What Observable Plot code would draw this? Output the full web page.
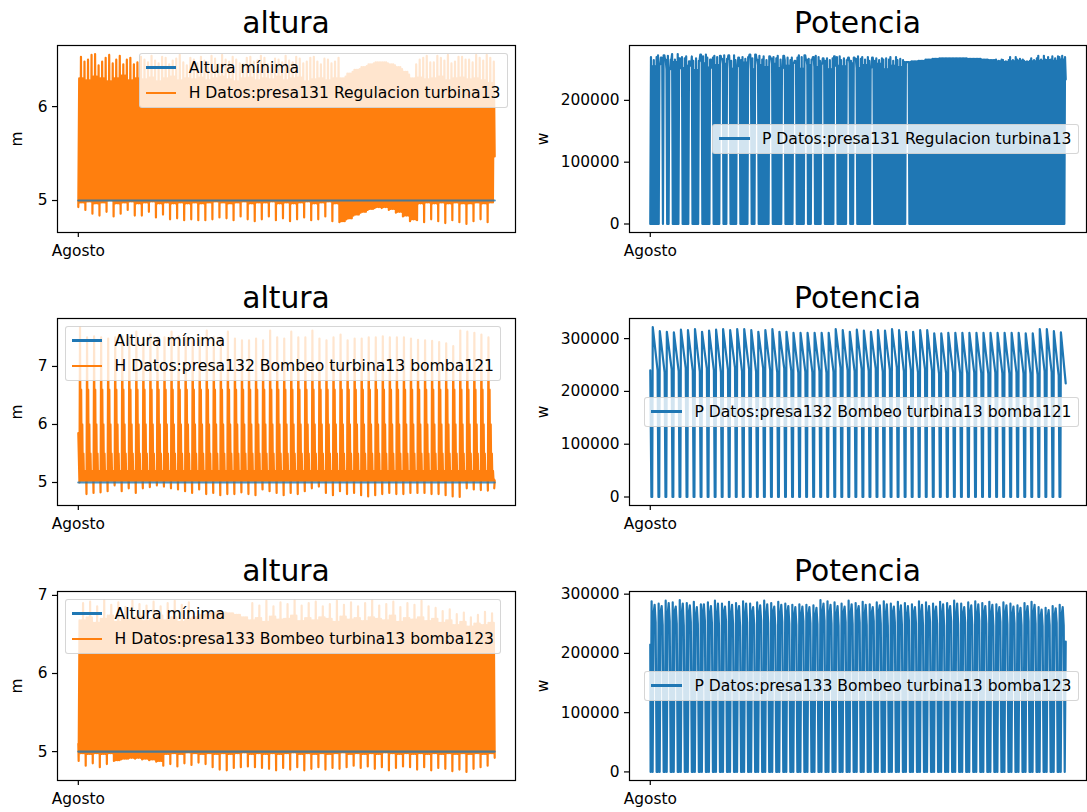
<!DOCTYPE html>
<html><head><meta charset="utf-8">
<script src="https://cdn.jsdelivr.net/npm/d3@7"></script>
<script src="https://cdn.jsdelivr.net/npm/@observablehq/plot@0.6"></script>
<style>
html,body{margin:0;padding:0;background:#fff;overflow:hidden}
#fig{position:relative;width:1087px;height:812px;font-family:"DejaVu Sans",sans-serif;color:#000}
.pw{position:absolute}
.title{position:absolute;font-size:29.8px;line-height:30px;white-space:nowrap;transform:translateX(-50%)}
.ylab{position:absolute;font-size:15.4px;line-height:16px;white-space:nowrap;transform:translate(-50%,-50%) rotate(-90deg)}
.legend{position:absolute;background:rgba(255,255,255,0.8);border:1px solid rgba(204,204,204,0.8);border-radius:3px;padding:5px 6px;font-size:15.6px;line-height:18px;white-space:nowrap;color:#000}
.legend .row{display:flex;align-items:center}
.legend .row+.row{margin-top:7.7px}
.legend .h{width:30.8px;height:2.2px;margin-right:12.3px;flex:none}
</style></head><body><div id="fig"></div>
<script>
// ---------- texts ----------
const xTickLabel = "Agosto";
const panelTitles = ["altura", "Potencia"];
const unitLabels = ["m", "w"];
const legendMin = "Altura mínima";
const names = {
  h131: "H Datos:presa131 Regulacion turbina13",
  p131: "P Datos:presa131 Regulacion turbina13",
  h132: "H Datos:presa132 Bombeo turbina13 bomba121",
  p132: "P Datos:presa132 Bombeo turbina13 bomba121",
  h133: "H Datos:presa133 Bombeo turbina13 bomba123",
  p133: "P Datos:presa133 Bombeo turbina13 bomba123"
};
const yTicksH131 = [5, 6];
const yTicksH132 = [5, 6, 7];
const yTicksH133 = [5, 6, 7];
const yTicksP131 = [0, 100000, 200000];
const yTicksP132 = [0, 100000, 200000, 300000];
const yTicksP133 = [0, 100000, 200000, 300000];
const alturaMinima = 5; // m

// ---------- data (per tidal cycle) ----------
const P = 12.42; // hours per tidal cycle

// presa131 height (m): trough spike, body bottom, body top, two top spikes
const h131Tr = [4.93,4.90,4.86,4.84,4.88,4.83,4.86,4.90,4.84,4.84,
  4.88,4.82,4.85,4.80,4.81,4.79,4.80,4.79,4.79,4.80,
  4.82,4.81,4.79,4.83,4.80,4.78,4.80,4.83,4.79,4.81,
  4.78,4.80,4.82,4.79,4.80,4.83,4.78,4.77,4.80,4.84,
  4.87,4.90,4.92,4.92,4.90,4.87,4.83,4.78,4.79,4.77,
  4.80,4.78,4.76,4.79,4.77,4.75,4.78,4.80,4.77];
const h131Lo = [4.98,4.99,4.97,4.98,5.00,4.97,4.98,4.99,4.97,4.98,
  4.99,4.97,4.98,4.97,4.98,4.97,4.98,4.97,4.98,4.99,
  4.98,4.97,4.98,4.99,4.97,4.98,4.98,4.99,4.97,4.98,
  4.97,4.98,4.99,4.97,4.98,4.99,4.97,4.78,4.81,4.85,
  4.88,4.91,4.93,4.93,4.91,4.88,4.84,4.80,4.97,4.98,
  4.97,4.98,4.97,4.98,4.97,4.97,4.98,4.97,4.98];
const h131Hi = [6.30,6.28,6.32,6.30,6.27,6.30,6.33,6.28,6.30,6.29,
  6.31,6.27,6.30,6.32,6.28,6.30,6.29,6.31,6.28,6.30,
  6.32,6.29,6.27,6.30,6.31,6.28,6.30,6.29,6.32,6.28,
  6.30,6.31,6.27,6.29,6.30,6.28,6.30,6.30,6.35,6.39,
  6.42,6.45,6.47,6.47,6.45,6.42,6.37,6.30,6.31,6.29,
  6.30,6.32,6.28,6.30,6.31,6.29,6.30,6.28,6.25];
const h131Pk = [6.53,6.50,6.56,6.48,6.55,6.50,6.45,6.52,6.47,6.50,
  6.54,6.46,6.52,6.49,6.55,6.44,6.50,6.53,6.47,6.51,
  6.55,6.48,6.50,6.45,6.53,6.49,6.52,6.46,6.50,6.54,
  6.47,6.51,6.48,6.53,6.45,6.50,6.48,6.30,6.35,6.39,
  6.42,6.45,6.47,6.47,6.45,6.42,6.37,6.30,6.50,6.54,
  6.47,6.52,6.55,6.48,6.53,6.50,6.55,6.49,6.52];
const h131Pk2 = [6.48,6.55,6.44,6.52,6.46,6.54,6.50,6.45,6.53,6.47,
  6.49,6.53,6.45,6.51,6.47,6.52,6.46,6.49,6.54,6.45,
  6.50,6.53,6.46,6.52,6.48,6.54,6.45,6.51,6.47,6.49,
  6.53,6.46,6.52,6.48,6.51,6.46,6.52,6.32,6.37,6.40,
  6.43,6.46,6.47,6.46,6.44,6.40,6.34,6.45,6.52,6.47,
  6.54,6.49,6.46,6.53,6.50,6.47,6.52,6.55,6.48];
const h131End = 5.47;

// presa131 power (kW)
const p131Pk = [270,273,266,275,268,271,264,274,269,272,
  267,273,265,270,274,266,271,268,272,265,
  269,273,266,270,264,268,271,265,269,267,
  270,264,268,266,270,265,262,263,264,266,
  267,268,268,268,268,267,267,266,265,266,
  265,270,266,264,268,272,266,271,270];
const p131Pk2 = [265,269,272,266,270,263,268,271,266,270,
  273,264,269,267,268,272,265,270,266,269,
  264,270,267,272,268,265,270,268,264,271,
  266,269,265,268,264,267,262,263,264,266,
  267,268,268,268,268,267,267,266,265,264,
  263,265,267,263,265,266,270,268,272];
const p131Hi = [255,258,250,262,252,256,249,260,253,257,
  259,251,255,261,250,257,254,259,252,256,
  260,251,257,254,259,250,256,255,260,252,
  257,253,259,250,256,254,262,263,264,266,
  267,268,268,268,268,267,267,266,265,263,
  262,263,264,262,263,264,265,264,266];
// cycles at which the turbine stays on (white gaps)
const p131Holds = [1.30,2.01,2.86,4.14,5.55,6.97,8.53,10.08,10.93,12.35,14.05,15.04,
  17.03,18.73,20.43,21.99,22.98,24.39,26.23,27.93,29.07,31.47,36.43];
const p131End = 234;

// presa132 height (m)
const h132Start = 5.85;
const h132Pk = [7.68,7.50,7.52,7.50,7.48,7.50,7.52,7.50,7.60,7.50,
  7.55,7.50,7.50,7.60,7.52,7.50,7.48,7.50,7.62,7.50,
  7.50,7.60,7.48,7.45,7.45,7.48,7.45,7.62,7.50,7.48,
  7.60,7.50,7.50,7.62,7.48,7.45,7.50,7.55,7.45,7.48,
  7.48,7.50,7.50,7.52,7.50,7.50,7.50,7.48,7.46,7.45,
  7.44,7.42,7.40,7.35,7.62,7.60,7.58,7.55,7.50];
const h132Tr = [5.00,4.80,4.82,4.83,4.85,4.95,4.85,4.90,4.82,4.90,
  4.92,4.95,4.93,4.90,4.88,4.85,4.82,4.88,4.80,4.82,
  4.78,4.80,4.80,4.83,4.80,4.78,4.88,4.85,4.82,4.78,
  4.82,4.80,4.85,4.90,4.93,4.82,4.78,4.85,4.80,4.82,
  4.78,4.76,4.78,4.80,4.82,4.80,4.80,4.82,4.82,4.82,
  4.80,4.80,4.78,4.76,4.75,4.90,4.88,4.87,4.86];
// typical upper envelope while the level oscillates during a cycle, and its base
const h132Decay = [6.60, 6.00, 5.50, 5.20, 5.05];
const h132Base = 5.03;
const h132End = 4.90;

// presa132 power (kW)
const p132Start = 240;
const p132Pk = [322,314,313,312,317,316,318,313,315,317,
  318,316,318,318,316,313,316,318,313,313,
  311,311,311,311,311,311,318,316,313,317,
  315,313,316,315,318,316,313,313,316,316,
  310,310,311,311,311,311,311,311,311,311,
  311,311,311,310,310,318,318,314,312];
const p132Lo = [240,236,242,238,244,239,237,243,240,236,
  241,245,238,242,237,244,240,236,243,239,
  235,237,236,238,235,237,244,240,238,242,
  239,243,237,241,245,238,240,236,242,239,
  233,234,235,234,233,235,234,233,235,234,
  233,235,234,233,232,238,236,230,215];

// presa133 height (m)
const h133Start = 5.10;
const h133Tr = [4.88,4.82,4.85,4.80,4.84,4.88,4.90,4.91,4.91,4.90,
  4.89,4.87,4.82,4.84,4.81,4.85,4.83,4.86,4.84,4.80,
  4.77,4.76,4.79,4.80,4.81,4.80,4.79,4.78,4.76,4.79,
  4.77,4.80,4.76,4.78,4.80,4.77,4.79,4.78,4.80,4.82,
  4.79,4.81,4.78,4.80,4.76,4.79,4.81,4.80,4.77,4.80,
  4.76,4.79,4.78,4.75,4.77,4.74,4.78,4.80,4.82];
const h133Lo = [4.98,4.97,4.98,4.97,4.98,4.89,4.91,4.92,4.92,4.91,
  4.90,4.88,4.97,4.98,4.97,4.99,4.98,4.97,4.98,4.97,
  4.98,4.97,4.98,4.99,4.97,4.98,4.97,4.98,4.97,4.98,
  4.99,4.97,4.98,4.97,4.98,4.97,4.98,4.99,4.97,4.98,
  4.97,4.98,4.97,4.99,4.98,4.97,4.98,4.97,4.98,4.97,
  4.98,4.97,4.98,4.97,4.98,4.97,4.98,4.97,4.98];
const h133Hi = [6.68,6.72,6.65,6.70,6.74,6.66,6.71,6.69,6.73,6.67,
  6.70,6.74,6.68,6.72,6.66,6.70,6.72,6.75,6.77,6.78,
  6.78,6.77,6.75,6.72,6.68,6.71,6.66,6.73,6.69,6.70,
  6.74,6.67,6.71,6.68,6.72,6.70,6.66,6.73,6.69,6.71,
  6.67,6.72,6.70,6.68,6.74,6.66,6.71,6.69,6.72,6.67,
  6.70,6.65,6.68,6.62,6.66,6.60,6.64,6.62,6.65];
const h133Pk = [6.90,6.92,6.86,6.94,6.88,6.91,6.85,6.93,6.89,6.87,
  6.92,6.86,6.90,6.93,6.88,6.91,6.72,6.75,6.77,6.78,
  6.78,6.77,6.75,6.72,6.90,6.87,6.93,6.86,6.91,6.89,
  6.94,6.87,6.90,6.92,6.86,6.89,6.93,6.88,6.91,6.86,
  6.90,6.94,6.87,6.89,6.92,6.85,6.90,6.88,6.93,6.86,
  6.84,6.80,6.82,6.76,6.78,6.72,6.75,6.79,6.77];
const h133End = 4.92;

// presa133 power (kW)
const p133Start = 215;
const p133Pk = [288,284,289,286,290,285,287,283,286,289,
  284,287,285,288,284,286,289,285,287,284,
  282,283,282,281,290,288,286,284,289,285,
  287,283,286,288,284,287,285,283,288,286,
  284,287,285,289,284,286,288,285,287,283,
  286,284,281,285,287,278,277,280,282];
const p133Pk2 = [282,280,285,279,284,281,278,283,280,284,
  279,282,280,284,278,281,283,279,282,280,
  278,279,278,277,284,282,280,279,283,280,
  282,278,281,283,279,281,280,278,282,280,
  279,283,280,284,278,281,283,280,282,278,
  281,279,277,280,282,274,273,276,278];
const p133Hi = [268,270,266,271,267,269,265,270,268,266,
  271,267,269,265,270,268,266,271,267,269,
  265,266,265,264,270,268,266,269,267,271,
  265,268,270,266,269,267,265,270,268,266,
  269,267,271,265,268,270,266,269,267,265,
  268,266,264,267,269,262,261,264,266];
const p133Lo = [252,248,254,250,247,253,249,255,251,248,
  254,250,246,252,249,255,251,247,253,250,
  248,254,251,249,255,250,247,253,249,252,
  248,254,250,246,252,249,255,251,248,253,
  250,247,254,249,252,248,255,250,247,253,
  249,251,248,254,250,246,248,251,247];
const p133End = 220;

// ---------- building the series from the arrays ----------
const valOf = (a, k) => Array.isArray(a) ? a[k] : a;
// evenly spaced readings within each cycle ("z" = turbine stopped)
function buildDense(order, arrs, start, end, holds, scale = 1) {
  const L = order.length;
  const K = arrs[order.find(r => r !== "z")].length;
  const off = start == null ? 0 : 0.6;
  const pts = [];
  if (start != null) pts.push({t: 0, v: start * scale});
  for (let k = 0; k < K; k++)
    for (let j = 0; j < L; j++) {
      const r = order[j];
      pts.push({t: off + (k + j / L) * P, v: r === "z" ? 0 : valOf(arrs[r], k) * scale, z: r === "z"});
    }
  if (holds) for (const g of holds) {
    const tg = off + g * P;
    let best = -1, bd = Infinity;
    pts.forEach((p, i) => { if (p.z) { const d = Math.abs(p.t - tg); if (d < bd) { bd = d; best = i; } } });
    for (let i = best, n = 0; n < 2 && i < pts.length; i++)
      if (pts[i].z) { pts[i].v = pts[i - 1].v; pts[i].z = false; n++; }
  }
  pts.push({t: off + K * P, v: end * scale});
  return pts;
}
// readings at given hours within each cycle
function buildCycles(order, arrs, start, end, off, scale = 1) {
  const K = arrs[order.find(([, r]) => r !== "z" && Array.isArray(arrs[r]))[1]].length;
  const pts = [{t: 0, v: start * scale}];
  for (let k = 0; k < K; k++)
    for (const [h, r] of order) pts.push({t: off + k * P + h, v: r === "z" ? 0 : valOf(arrs[r], k) * scale});
  if (end != null) pts.push({t: off + K * P - 1.2, v: end * scale});
  return pts;
}

const sH131 = buildDense(["tr","hi","lo","pk","lo","hi","lo","pk2"],
  {tr: h131Tr, hi: h131Hi, lo: h131Lo, pk: h131Pk, pk2: h131Pk2}, null, h131End);
const sH133 = buildDense(["tr","hi","lo","hi","lo","pk","lo","hi"],
  {tr: h133Tr, hi: h133Hi, lo: h133Lo, pk: h133Pk}, h133Start, h133End);
const sP131 = buildDense(["z","pk","z","hi","z","pk2","z","hi","z","pk"],
  {pk: p131Pk, pk2: p131Pk2, hi: p131Hi}, null, p131End, p131Holds, 1000);
const sP133 = buildDense(["z","pk","z","hi","pk2","lo","z"],
  {pk: p133Pk, pk2: p133Pk2, hi: p133Hi, lo: p133Lo}, p133Start, p133End, null, 1000);
const sP132 = buildCycles([[0,"z"],[1.4,"z"],[2.4,"pk"],[P - 1.5,"lo"]],
  {pk: p132Pk, lo: p132Lo}, p132Start, null, 2, 1000);
const sH132 = buildCycles(
  [[0,"tr"],[1,"pk"],[2,"b"],[3,"e0"],[4,"b"],[5,"e1"],[6,"b"],[7,"e2"],[8,"b"],[9,"e3"],[10,"b"],[11,"e4"],[12,"b"]],
  {tr: h132Tr, pk: h132Pk, b: h132Base, e0: h132Decay[0], e1: h132Decay[1], e2: h132Decay[2], e3: h132Decay[3], e4: h132Decay[4]},
  h132Start, h132End, 2);

// ---------- layout ----------
const fig = document.getElementById("fig");
const C0 = "#1f77b4", C1 = "#ff7f0e";
const rows = [{top: 45, bottom: 232}, {top: 318, bottom: 505}, {top: 591, bottom: 780}];
const cols = [{left: 0, width: 540, ml: 57, mr: 25}, {left: 540, width: 547, ml: 89, mr: 1}];

function pad(ext) { const r = ext[1] - ext[0]; return [ext[0] - 0.05 * r, ext[1] + 0.05 * r]; }

function panel(row, col, series, color, ticks, withMin) {
  const R = rows[row], Cc = cols[col];
  const mt = 6, mb = 34;
  const xExt = d3.extent(series, d => d.t);
  let yExt = d3.extent(series, d => d.v);
  const marks = [Plot.line(series, {x: "t", y: "v", stroke: color, strokeWidth: 2.2})];
  if (withMin) {
    const mins = [{t: xExt[0], v: alturaMinima}, {t: xExt[1], v: alturaMinima}];
    yExt = [Math.min(yExt[0], alturaMinima), Math.max(yExt[1], alturaMinima)];
    marks.push(Plot.line(mins, {x: "t", y: "v", stroke: C0, strokeWidth: 2.2, strokeOpacity: 0.8}));
  }
  marks.push(
    Plot.frame({stroke: "#000", strokeWidth: 1.2}),
    Plot.axisY({ticks, tickSize: 5, tickPadding: 5, tickFormat: d => String(d), label: null, strokeWidth: 1.2}),
    Plot.axisX({ticks: [0], tickSize: 5, tickPadding: 8, tickFormat: () => xTickLabel, label: null, strokeWidth: 1.2})
  );
  const svg = Plot.plot({
    width: Cc.width, height: (R.bottom - R.top) + mt + mb,
    marginLeft: Cc.ml, marginRight: Cc.mr, marginTop: mt, marginBottom: mb,
    x: {domain: pad(xExt)}, y: {domain: pad(yExt)},
    style: {fontFamily: "DejaVu Sans", fontSize: "15.4px", color: "#000", background: "transparent", overflow: "visible"},
    marks
  });
  const w = document.createElement("div");
  w.className = "pw"; w.style.left = Cc.left + "px"; w.style.top = (R.top - mt) + "px";
  w.append(svg); fig.append(w);

  const boxL = Cc.left + Cc.ml, boxR = Cc.left + Cc.width - Cc.mr;
  const t = document.createElement("div");
  t.className = "title"; t.textContent = panelTitles[col];
  t.style.left = ((boxL + boxR) / 2) + "px"; t.style.top = (R.top - 12 - 25.3 + (row ? 2 : 0)) + "px";
  fig.append(t);
  const yl = document.createElement("div");
  yl.className = "ylab"; yl.textContent = unitLabels[col];
  yl.style.left = (col ? 543 : 17) + "px"; yl.style.top = ((R.top + R.bottom) / 2) + "px";
  fig.append(yl);
}

function legend(entries, pos) {
  const d = document.createElement("div");
  d.className = "legend";
  Object.assign(d.style, pos);
  for (const [c, txt] of entries) {
    const r = document.createElement("div"); r.className = "row";
    const h = document.createElement("span"); h.className = "h"; h.style.background = c;
    const s = document.createElement("span"); s.textContent = txt;
    r.append(h, s); d.append(r);
  }
  fig.append(d);
}

panel(0, 0, sH131, C1, yTicksH131, true);
panel(0, 1, sP131, C0, yTicksP131, false);
panel(1, 0, sH132, C1, yTicksH132, true);
panel(1, 1, sP132, C0, yTicksP132, false);
panel(2, 0, sH133, C1, yTicksH133, true);
panel(2, 1, sP133, C0, yTicksP133, false);

legend([[C0, legendMin], [C1, names.h131]], {right: (1087 - 507.5) + "px", top: "52.5px"});
legend([[C0, legendMin], [C1, names.h132]], {left: "64.5px", top: "325.5px"});
legend([[C0, legendMin], [C1, names.h133]], {left: "64.5px", top: "598.5px"});
legend([[C0, names.p131]], {right: "8.5px", top: "138.5px", transform: "translateY(-50%)"});
legend([[C0, names.p132]], {right: "8.5px", top: "411.5px", transform: "translateY(-50%)"});
legend([[C0, names.p133]], {right: "8.5px", top: "685.5px", transform: "translateY(-50%)"});
</script></body></html>
